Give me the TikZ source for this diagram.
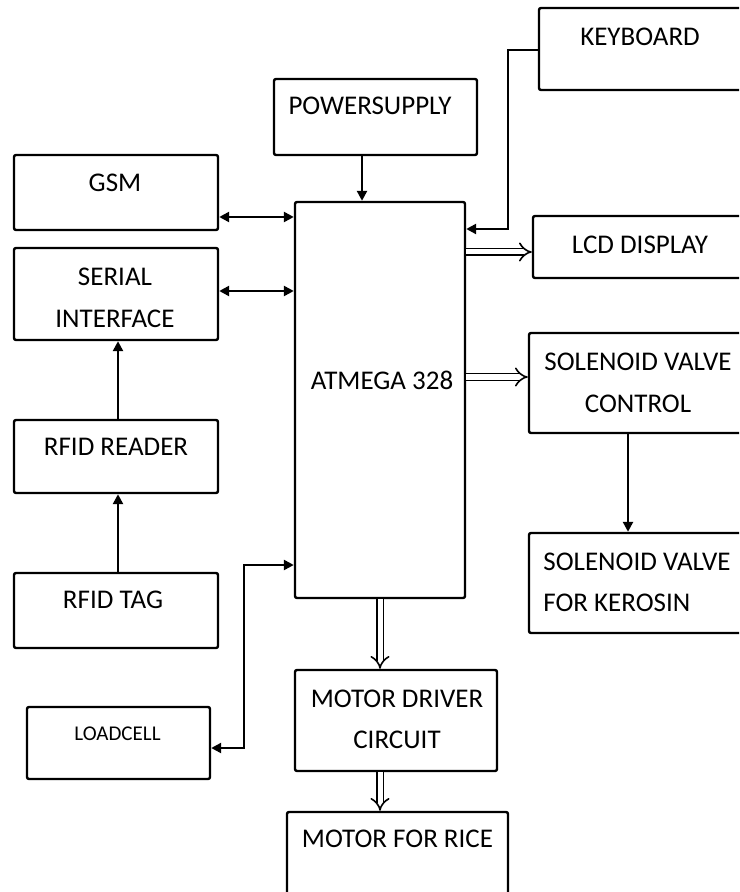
\documentclass[tikz,border=0pt]{standalone}
\usepackage{fontspec}
\setmainfont{Carlito}
\usetikzlibrary{arrows.meta}

\tikzset{
  blk/.style={draw, line width=1.2pt, rounded corners=1pt, inner sep=0pt},
  txt/.style={font=\fontsize{13.5}{20.75}\selectfont, align=center, inner sep=0pt},
  arr/.style={line width=1.2pt, -{Triangle[length=5pt,width=5pt]}},
  both/.style={line width=1.2pt, {Triangle[length=5pt,width=5pt]}-{Triangle[length=5pt,width=5pt]}},
  dbl/.style={double, double distance=2.5pt, line width=0.8pt, -{Implies}}
}

\begin{document}
\begin{tikzpicture}[x=0.5pt, y=-0.5pt]
    \useasboundingbox (0,0) rectangle (739,892);
    \clip (0,0) rectangle (739,892);
    % blocks
    \node[blk, minimum width=110.5pt, minimum height=41pt] (kbd) at (649.5,49) {};
    \node[blk, minimum width=101.5pt, minimum height=38pt] (psu) at (375.5,117) {};
    \node[blk, minimum width=102pt, minimum height=37.5pt] (gsm) at (116,192.5) {};
    \node[blk, minimum width=102pt, minimum height=46pt] (ser) at (116,294) {};
    \node[blk, minimum width=102pt, minimum height=36.5pt] (rdr) at (116,456.5) {};
    \node[blk, minimum width=102pt, minimum height=37.5pt] (tag) at (116,610.5) {};
    \node[blk, minimum width=91.5pt, minimum height=36pt] (load) at (118.5,743) {};
    \node[blk, minimum width=85pt, minimum height=198pt] (mcu) at (380,400) {};
    \node[blk, minimum width=113.5pt, minimum height=31pt] (lcd) at (646.5,247) {};
    \node[blk, minimum width=115.5pt, minimum height=50pt] (svc) at (644.5,383) {};
    \node[blk, minimum width=115.5pt, minimum height=50pt] (svk) at (644.5,583) {};
    \node[blk, minimum width=101pt, minimum height=50.5pt] (drv) at (396,720.5) {};
    \node[blk, minimum width=110.5pt, minimum height=49pt] (mot) at (397.5,861) {};
    % labels
    \node[txt] (kbd-t) at (640,37) {KEYBOARD};
    \node[txt] (psu-t) at (370,106) {POWERSUPPLY};
    \node[txt] (gsm-t) at (115,183) {GSM};
    \node[txt] (ser-t) at (115,298) {SERIAL\\INTERFACE};
    \node[txt] (rdr-t) at (116,447) {RFID READER};
    \node[txt] (tag-t) at (113,600) {RFID TAG};
    \node[txt, font=\fontsize{10.5}{12}\selectfont] (load-t) at (117.5,734) {LOADCELL};
    \node[txt] (mcu-t) at (382,380) {ATMEGA 328};
    \node[txt] (lcd-t) at (640,245) {LCD DISPLAY};
    \node[txt] (svc-t) at (638,383) {SOLENOID VALVE\\CONTROL};
    \node[txt, align=left, anchor=west] (svk-t) at (543,582.5) {SOLENOID VALVE\\FOR KEROSIN};
    \node[txt] (drv-t) at (397,719.5) {MOTOR DRIVER\\CIRCUIT};
    \node[txt] (mot-t) at (397.5,839) {MOTOR FOR RICE};
    % connections
    \draw[arr] (psu.south -| 362,0) -- (mcu.north -| 362,0);
    \draw[both] (gsm.east |- 0,217) -- (mcu.west |- 0,217);
    \draw[both] (ser.east |- 0,291) -- (mcu.west |- 0,291);
    \draw[arr] (kbd.west |- 0,50) -| (508,229) -- (mcu.east |- 0,229);
    \draw[dbl] (mcu.east |- 0,252) -- (lcd.west |- 0,252);
    \draw[dbl] (mcu.east |- 0,377) -- (svc.west |- 0,377);
    \draw[arr] (svc.south -| 628,0) -- (svk.north -| 628,0);
    \draw[arr] (tag.north -| 118,0) -- (rdr.south -| 118,0);
    \draw[arr] (rdr.north -| 118,0) -- (ser.south -| 118,0);
    \draw[both] (mcu.west |- 0,565) -| (244,748) -- (load.east |- 0,748);
    \draw[dbl] (mcu.south -| 380,0) -- (drv.north -| 380,0);
    \draw[dbl] (drv.south -| 380,0) -- (mot.north -| 380,0);
\end{tikzpicture}
\end{document}
